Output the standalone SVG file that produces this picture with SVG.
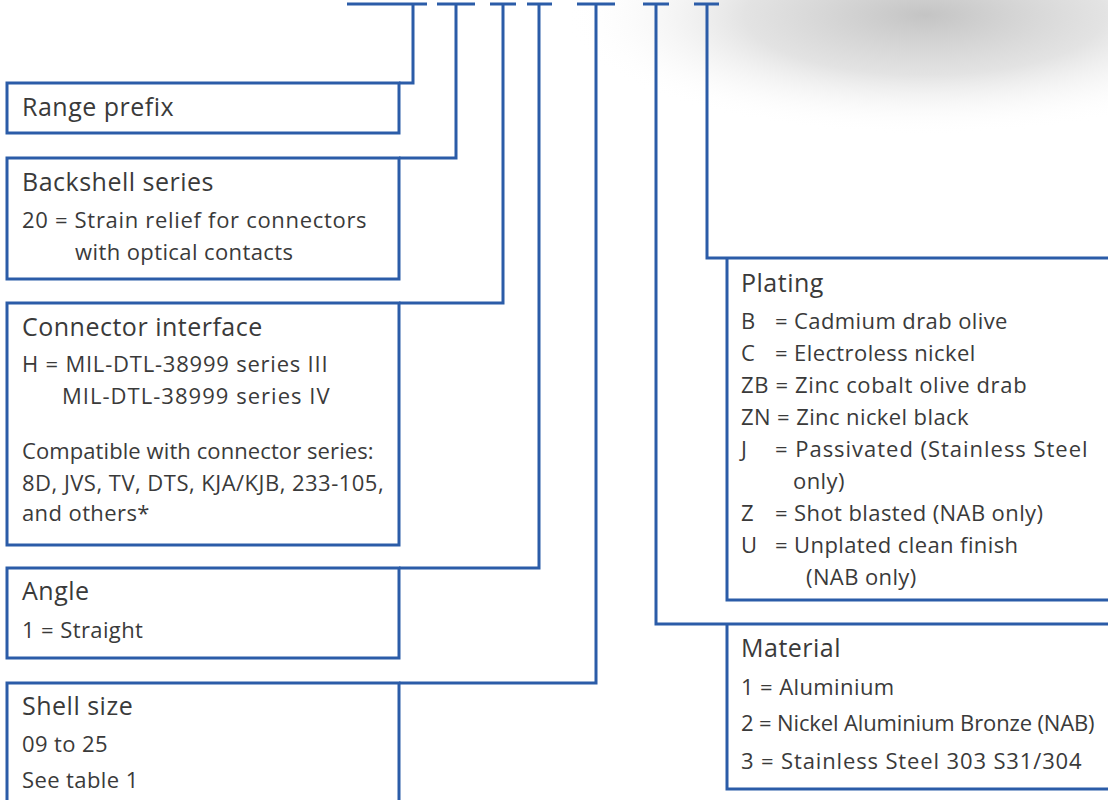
<svg xmlns="http://www.w3.org/2000/svg" width="1108" height="800" viewBox="0 0 1108 800">
<defs>
<radialGradient id="shade" cx="0.5" cy="0.5" r="0.5">
<stop offset="0" stop-color="#c4c4c4"/>
<stop offset="0.5" stop-color="#dcdcdc" stop-opacity="0.8"/>
<stop offset="1" stop-color="#ffffff" stop-opacity="0"/>
</radialGradient>
</defs>
<style>
.ln{stroke:#2b5ca8;stroke-width:3;fill:none}
.box{stroke:#2b5ca8;stroke-width:3;fill:none}
.t{font-family:"Open Sans","Noto Sans",sans-serif;font-size:25px;letter-spacing:0.5px;fill:#3a3a3a}
.b{font-family:"Open Sans","Noto Sans",sans-serif;font-size:22px;letter-spacing:0.4px;fill:#3a3a3a}
</style>
<rect width="1108" height="800" fill="#ffffff"/>
<ellipse cx="925" cy="15" rx="360" ry="120" fill="url(#shade)"/>
<g id="connectors">
<path class="ln" d="M347 4H427M437 4H475M490 4H516M527 4H552M577 4H615M643 4H669M694 4H719"/>
<path class="ln" d="M413 4V83H399"/>
<path class="ln" d="M456 4V158H399"/>
<path class="ln" d="M503 4V303H399"/>
<path class="ln" d="M539 4V568H399"/>
<path class="ln" d="M596 4V683H399"/>
<path class="ln" d="M707 4V258H727"/>
<path class="ln" d="M656 4V624H727"/>
</g>
<g id="range-prefix">
<rect class="box" x="7" y="83" width="392" height="50"/>
<text class="t" x="22" y="116">Range prefix</text>
</g>
<g id="backshell-series">
<rect class="box" x="7" y="158" width="392" height="121"/>
<text class="t" x="22" y="191">Backshell series</text>
<text class="b" x="22" y="228" textLength="345">20 = Strain relief for connectors</text>
<text class="b" x="75" y="260">with optical contacts</text>
</g>
<g id="connector-interface">
<rect class="box" x="7" y="303" width="392" height="242"/>
<text class="t" x="22" y="336">Connector interface</text>
<text class="b" x="22" y="372" textLength="306">H = MIL-DTL-38999 series III</text>
<text class="b" x="62" y="404" textLength="268">MIL-DTL-38999 series IV</text>
<text class="b" x="22" y="459" textLength="352">Compatible with connector series:</text>
<text class="b" x="22" y="491" textLength="362">8D, JVS, TV, DTS, KJA/KJB, 233-105,</text>
<text class="b" x="22" y="521">and others*</text>
</g>
<g id="angle">
<rect class="box" x="7" y="568" width="392" height="90"/>
<text class="t" x="22" y="600">Angle</text>
<text class="b" x="22" y="638">1 = Straight</text>
</g>
<g id="shell-size">
<rect class="box" x="7" y="683" width="392" height="130"/>
<text class="t" x="22" y="715">Shell size</text>
<text class="b" x="22" y="752">09 to 25</text>
<text class="b" x="22" y="788">See table 1</text>
</g>
<g id="plating">
<path class="box" d="M727 258H1112M727 258V600H1112"/>
<text class="t" x="741" y="292">Plating</text>
<text class="b" x="741" y="329">B</text><text class="b" x="775" y="329">= Cadmium drab olive</text>
<text class="b" x="741" y="361">C</text><text class="b" x="775" y="361">= Electroless nickel</text>
<text class="b" x="741" y="393" textLength="286">ZB = Zinc cobalt olive drab</text>
<text class="b" x="741" y="425">ZN = Zinc nickel black</text>
<text class="b" x="741" y="457">J</text><text class="b" x="775" y="457" textLength="313">= Passivated (Stainless Steel</text>
<text class="b" x="793" y="489">only)</text>
<text class="b" x="741" y="521">Z</text><text class="b" x="775" y="521">= Shot blasted (NAB only)</text>
<text class="b" x="741" y="553">U</text><text class="b" x="775" y="553">= Unplated clean finish</text>
<text class="b" x="806" y="585">(NAB only)</text>
</g>
<g id="material">
<path class="box" d="M727 624H1112M727 624V789H1112"/>
<text class="t" x="741" y="657">Material</text>
<text class="b" x="741" y="695">1 = Aluminium</text>
<text class="b" x="741" y="731" textLength="354">2 = Nickel Aluminium Bronze (NAB)</text>
<text class="b" x="741" y="769" textLength="341">3 = Stainless Steel 303 S31/304</text>
</g>
</svg>
